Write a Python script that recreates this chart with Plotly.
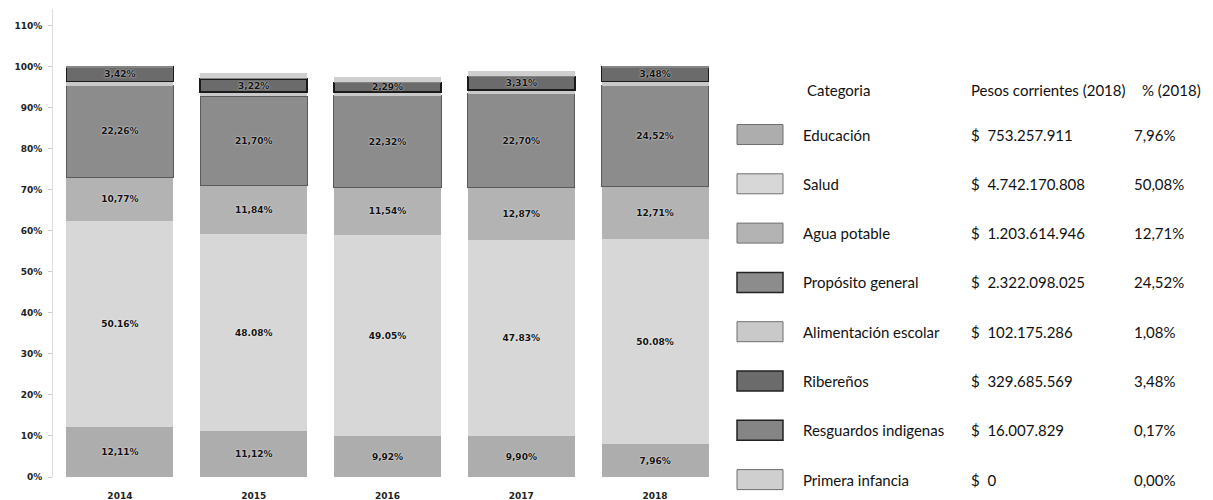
import plotly.graph_objects as go

years = ["2014", "2015", "2016", "2017", "2018"]

educacion = [12.11, 11.12, 9.92, 9.90, 7.96]
salud = [50.16, 48.08, 49.05, 47.83, 50.08]
agua_potable = [10.77, 11.84, 11.54, 12.87, 12.71]
proposito_general = [22.26, 21.70, 22.32, 22.70, 24.52]
alimentacion_escolar = [1.10, 1.00, 1.00, 1.00, 1.08]
riberenos = [3.42, 3.22, 2.29, 3.31, 3.48]
resguardos = [0.18, 0.18, 0.18, 0.17, 0.17]
primera_infancia = [0.00, 1.20, 1.10, 1.20, 0.00]

categorias = ["Educación", "Salud", "Agua potable", "Propósito general",
              "Alimentación escolar", "Ribereños", "Resguardos indigenas", "Primera infancia"]
pesos_2018 = ["$  753.257.911", "$  4.742.170.808", "$  1.203.614.946", "$  2.322.098.025",
              "$  102.175.286", "$  329.685.569", "$  16.007.829", "$  0"]
pct_2018 = ["7,96%", "50,08%", "12,71%", "24,52%", "1,08%", "3,48%", "0,17%", "0,00%"]

series = [educacion, salud, agua_potable, proposito_general,
          alimentacion_escolar, riberenos, resguardos, primera_infancia]
colors = ["#adadad", "#d7d7d7", "#b3b3b3", "#8c8c8c", "#c9c9c9", "#6b6b6b", "#858585", "#cfcfcf"]
line_colors = ["rgba(0,0,0,0)", "rgba(0,0,0,0)", "rgba(0,0,0,0)", "#5a5a5a",
               "rgba(0,0,0,0)", "#1a1a1a", "rgba(0,0,0,0)", "rgba(0,0,0,0)"]
line_widths = [0, 0, 0, 1, 0, 1.5, 0, 0]
show_labels = [True, True, True, True, False, True, False, False]
decimal_sep = [",", ".", ",", ",", ",", ",", ",", ","]

fig = go.Figure()
for i, vals in enumerate(series):
    if show_labels[i]:
        txt = [f"{v:.2f}".replace(".", decimal_sep[i]) + "%" for v in vals]
    else:
        txt = None
    fig.add_trace(go.Bar(
        x=years, y=vals, name=categorias[i],
        marker=dict(color=colors[i], line=dict(color=line_colors[i], width=line_widths[i])),
        text=txt, textposition="inside" if txt else "none",
        insidetextanchor="middle", textangle=0,
        textfont=dict(family="DejaVu Sans", size=9, color="#111111", weight="bold",
                      shadow="0px 0px 2px white"),
        showlegend=False, hoverinfo="skip",
    ))

# the page body adds an 8px margin: figure coordinates = screen coordinates - OFF
OFF = 8
FW, FH = 1213 - OFF, 500 - OFF
L, R, T, B = 53 - OFF, 722 - OFF, 9 - OFF, 477 - OFF
W, H = R - L, B - T


def px(x):
    return (x - OFF - L) / W


def py(y):
    return (B - (y - OFF)) / H


annotations = []
shapes = []
hfont = dict(family="Lato", size=15, color="#111111")
annotations.append(dict(x=px(805), y=py(90), xref="paper", yref="paper", text="Categoria",
                        showarrow=False, xanchor="left", yanchor="middle", font=hfont))
annotations.append(dict(x=px(969), y=py(90), xref="paper", yref="paper", text="Pesos corrientes (2018)",
                        showarrow=False, xanchor="left", yanchor="middle", font=hfont))
annotations.append(dict(x=px(1140), y=py(90), xref="paper", yref="paper", text="% (2018)",
                        showarrow=False, xanchor="left", yanchor="middle", font=hfont))

row0, step = 134.5, 49.3
for i, cat in enumerate(categorias):
    yc = row0 + i * step
    shapes.append(dict(type="rect", xref="paper", yref="paper",
                       x0=px(737), x1=px(783), y0=py(yc - 10), y1=py(yc + 10),
                       fillcolor=colors[i],
                       line=dict(color="#222222" if i in (3, 5, 6) else "#6f6f6f",
                                 width=1.5 if i in (3, 5, 6) else 1)))
    annotations.append(dict(x=px(801), y=py(yc), xref="paper", yref="paper", text=cat,
                            showarrow=False, xanchor="left", yanchor="middle", font=hfont))
    annotations.append(dict(x=px(969), y=py(yc), xref="paper", yref="paper", text=pesos_2018[i],
                            showarrow=False, xanchor="left", yanchor="middle", font=hfont))
    annotations.append(dict(x=px(1132), y=py(yc), xref="paper", yref="paper", text=pct_2018[i],
                            showarrow=False, xanchor="left", yanchor="middle", font=hfont))

fig.update_layout(
    width=FW, height=FH,
    margin=dict(l=L, r=FW - R, t=T, b=FH - B, autoexpand=False),
    barmode="stack", bargap=0.2,
    plot_bgcolor="white", paper_bgcolor="white",
    annotations=annotations, shapes=shapes,
    uniformtext=dict(minsize=9, mode="show"),
)
fig.update_xaxes(showgrid=False, showline=False, ticks="", ticklabelstandoff=12,
                 tickfont=dict(family="DejaVu Sans", size=9, color="#222222", weight="bold"))
fig.update_yaxes(range=[0, 114], tickvals=list(range(0, 111, 10)),
                 ticktext=[f"{v}%" for v in range(0, 111, 10)],
                 showgrid=False, zeroline=False, showline=True, linecolor="#dddddd", linewidth=1,
                 ticks="outside", ticklen=4, tickcolor="#cccccc", ticklabelstandoff=4,
                 tickfont=dict(family="DejaVu Sans", size=9, color="#222222", weight="bold"))

fig.write_html("out.html")
